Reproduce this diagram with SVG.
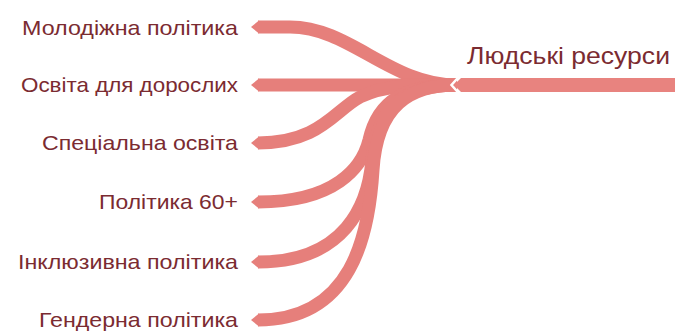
<svg xmlns="http://www.w3.org/2000/svg" xmlns:xlink="http://www.w3.org/1999/xlink" width="675" height="331" viewBox="0 0 675 331">
<style>
.br{fill:none;stroke:#e67f7b;stroke-width:13}
.tip{fill:#e67f7b}
.lbl{font-family:"Liberation Sans",Arial,sans-serif;font-size:21px;fill:#7b2b31;text-anchor:end}
.root{font-family:"Liberation Sans",Arial,sans-serif;font-size:24px;fill:#7b2b31}
</style>
<defs>
<path id="tipShape" d="M251,0 L259,-6.5 L259,6.5 Z"/>
</defs>
<rect width="675" height="331" fill="#ffffff"/>
<g id="connectors">
<path class="br" d="M457,85 C390,85 350,27 290,27 L258,27"/>
<path class="br" d="M457,85 L258,85"/>
<path class="br" d="M457,85 C410,85 385,85 360,97 C335,110 320,143 258,143"/>
<path class="br" d="M457,85 C405,85 378,100 369,140 C362,168 335,202 258,202"/>
<path class="br" d="M457,85 C407,85 377,105 372,160 C368,205 345,262 258,262"/>
<path class="br" d="M457,85 C410,85 377,105 373,170 C369,235 352,320 258,320"/>
<use class="tip" xlink:href="#tipShape" y="27"/>
<use class="tip" xlink:href="#tipShape" y="85"/>
<use class="tip" xlink:href="#tipShape" y="143"/>
<use class="tip" xlink:href="#tipShape" y="202"/>
<use class="tip" xlink:href="#tipShape" y="262"/>
<use class="tip" xlink:href="#tipShape" y="320"/>
<polyline points="459.5,76 451.5,85 459.5,94" fill="none" stroke="#ffffff" stroke-width="2.5"/>
</g>
<g id="root">
<polygon points="454,85 461,78 675,78 675,92 461,92" fill="#e8837f"/>
<text class="root" x="467" y="64" textLength="203" lengthAdjust="spacingAndGlyphs">Людські ресурси</text>
</g>
<g id="n1"><text class="lbl" x="238" y="35" textLength="216" lengthAdjust="spacingAndGlyphs">Молодіжна політика</text></g>
<g id="n2"><text class="lbl" x="238" y="92" textLength="217" lengthAdjust="spacingAndGlyphs">Освіта для дорослих</text></g>
<g id="n3"><text class="lbl" x="238" y="150" textLength="196" lengthAdjust="spacingAndGlyphs">Спеціальна освіта</text></g>
<g id="n4"><text class="lbl" x="238" y="209" textLength="139" lengthAdjust="spacingAndGlyphs">Політика 60+</text></g>
<g id="n5"><text class="lbl" x="238" y="269" textLength="220" lengthAdjust="spacingAndGlyphs">Інклюзивна політика</text></g>
<g id="n6"><text class="lbl" x="238" y="327" textLength="199" lengthAdjust="spacingAndGlyphs">Гендерна політика</text></g>
</svg>
